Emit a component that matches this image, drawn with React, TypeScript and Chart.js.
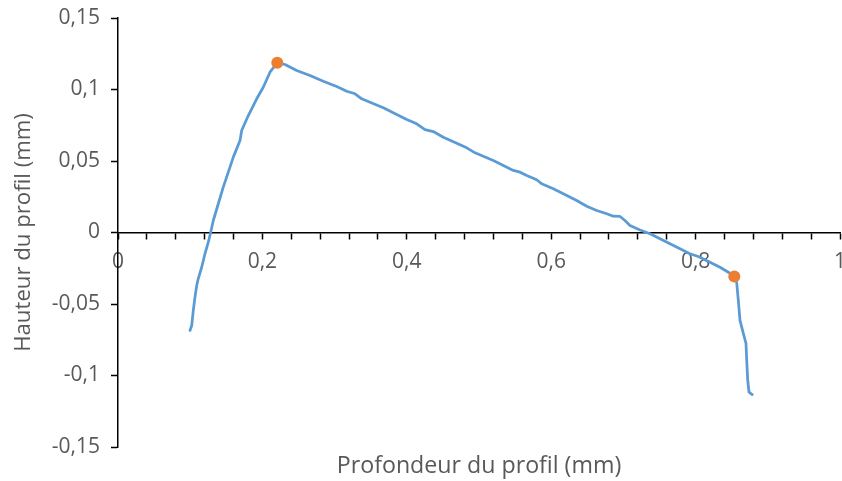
import React, { useEffect, useRef } from "react";
import { Chart, registerables } from "chart.js";

Chart.register(...registerables);

// Profile curve (depth x, height y), in mm
const profileX = [
  0.0997, 0.1021, 0.1043, 0.1066, 0.109, 0.1112, 0.1159, 0.1205, 0.1251, 0.1284,
  0.132, 0.1389, 0.1458, 0.1551, 0.1597, 0.169, 0.1713, 0.1805, 0.1921, 0.2012,
  0.2105, 0.2206,
  0.2313, 0.2475, 0.2659, 0.2843, 0.3029, 0.3168, 0.3283, 0.3375, 0.349, 0.3675,
  0.386, 0.3999, 0.4137, 0.4252, 0.4367, 0.4506, 0.4691, 0.483, 0.4945, 0.5198,
  0.5337, 0.5475, 0.5568, 0.5661, 0.5799, 0.5868, 0.6029, 0.6168, 0.6353, 0.6492,
  0.663, 0.6769, 0.686, 0.6953, 0.7022, 0.7091, 0.723, 0.7368, 0.7507, 0.7645,
  0.7784, 0.7922, 0.8037, 0.8199, 0.8338, 0.8476, 0.8536,
  0.8569, 0.8592, 0.8615, 0.8661, 0.8698, 0.8708, 0.8722, 0.874, 0.8785,
];
const profileY = [
  -0.0685, -0.065, -0.0545, -0.0452, -0.0371, -0.0322, -0.0243, -0.0147, -0.0068, 0.0002,
  0.0084, 0.0201, 0.0317, 0.0457, 0.0527, 0.0643, 0.0713, 0.0818, 0.0935, 0.1016,
  0.1121, 0.1187,
  0.1175, 0.1133, 0.1098, 0.1058, 0.1021, 0.0988, 0.097, 0.0935, 0.0911, 0.0872,
  0.0825, 0.079, 0.076, 0.072, 0.0706, 0.0666, 0.0624, 0.0592, 0.0557, 0.0503,
  0.0469, 0.0434, 0.0422, 0.0399, 0.0369, 0.0341, 0.0306, 0.0271, 0.0224, 0.0184,
  0.0154, 0.0131, 0.0114, 0.0112, 0.0084, 0.0049, 0.0017, -0.0009, -0.0044, -0.0079,
  -0.0114, -0.0149, -0.0168, -0.0208, -0.0243, -0.0285, -0.0308,
  -0.0348, -0.0476, -0.0615, -0.0706, -0.0776, -0.0895, -0.1035, -0.1117, -0.1133,
];

// Highlighted points
const markerX = [0.2206, 0.8536];
const markerY = [0.1187, -0.0308];

// Axes
const xMin = 0;
const xMax = 1;
const xMinorStep = 0.04;
const xLabelStep = 0.2;
const yMin = -0.15;
const yMax = 0.15;
const yStep = 0.05;

const xTitle = "Profondeur du profil (mm)";
const yTitle = "Hauteur du profil (mm)";

const FONT = "'Open Sans', sans-serif";
const TEXT_COLOR = "#595959";

function fmt(v: number): string {
  const r = parseFloat(v.toFixed(2));
  if (Math.abs(r) < 1e-9) return "0";
  return String(r).replace(".", ",");
}

const noPadding = (s: any) => {
  s.paddingLeft = 0;
  s.paddingRight = 0;
  s.paddingTop = 0;
  s.paddingBottom = 0;
};

export default function App() {
  const ref = useRef<HTMLCanvasElement | null>(null);

  useEffect(() => {
    if (!ref.current) return;
    const profile = profileX.map((x, i) => ({ x, y: profileY[i] }));
    const markers = markerX.map((x, i) => ({ x, y: markerY[i] }));

    const chart = new Chart(ref.current, {
      type: "scatter",
      data: {
        datasets: [
          {
            data: markers,
            order: 0,
            showLine: false,
            pointRadius: 6,
            pointHoverRadius: 6,
            pointBackgroundColor: "#ED7D31",
            pointBorderColor: "#ED7D31",
            pointBorderWidth: 0,
          },
          {
            data: profile,
            order: 1,
            showLine: true,
            borderColor: "#5B9BD5",
            borderWidth: 2.75,
            pointRadius: 0,
            tension: 0,
            borderJoinStyle: "round",
            borderCapStyle: "round",
            fill: false,
          },
        ],
      },
      options: {
        responsive: false,
        animation: false,
        events: [],
        layout: { autoPadding: false, padding: { left: 0, right: 2, top: 18, bottom: 0 } },
        plugins: { legend: { display: false }, tooltip: { enabled: false } },
        scales: {
          x: {
            type: "linear",
            axis: "x",
            position: { y: 0 },
            min: xMin,
            max: xMax,
            grid: {
              display: true,
              drawOnChartArea: false,
              drawTicks: true,
              tickLength: 6,
              tickColor: "#000000",
              tickWidth: 1.5,
            },
            border: { display: true, color: "#000000", width: 1.5 },
            ticks: {
              stepSize: xMinorStep,
              autoSkip: false,
              maxRotation: 0,
              padding: 11,
              color: TEXT_COLOR,
              font: { family: FONT, size: 21 },
              callback: (v: any) => {
                const n = Number(v);
                const k = n / xLabelStep;
                return Math.abs(k - Math.round(k)) < 1e-6 ? fmt(n) : "";
              },
            },
            afterFit: noPadding,
          },
          x2: {
            type: "linear",
            axis: "x",
            position: "bottom",
            min: xMin,
            max: xMax,
            grid: { display: false },
            border: { display: false },
            ticks: { display: false },
            title: {
              display: true,
              text: xTitle,
              color: TEXT_COLOR,
              font: { family: FONT, size: 23.2 },
              padding: { top: 4, bottom: 1 },
            },
            afterFit: (s: any) => {
              noPadding(s);
              s.height = 34;
            },
          },
          y: {
            type: "linear",
            position: "left",
            min: yMin,
            max: yMax,
            grid: {
              display: true,
              drawOnChartArea: false,
              drawTicks: true,
              tickLength: 7,
              tickColor: "#000000",
              tickWidth: 1.5,
            },
            border: { display: true, color: "#000000", width: 1.5 },
            ticks: {
              stepSize: yStep,
              padding: 11,
              color: TEXT_COLOR,
              font: { family: FONT, size: 21 },
              callback: (v: any) => fmt(Number(v)),
            },
            title: {
              display: true,
              text: yTitle,
              color: TEXT_COLOR,
              font: { family: FONT, size: 22.2 },
              padding: { top: 10, bottom: 0 },
            },
            afterFit: (s: any) => {
              noPadding(s);
              s.width = 118;
            },
          },
        },
      },
    } as any);

    return () => chart.destroy();
  }, []);

  return (
    <div style={{ position: "fixed", left: 0, top: 0, width: 842, height: 481, background: "#fff" }}>
      <canvas ref={ref} width={842} height={481} style={{ display: "block" }} />
    </div>
  );
}
